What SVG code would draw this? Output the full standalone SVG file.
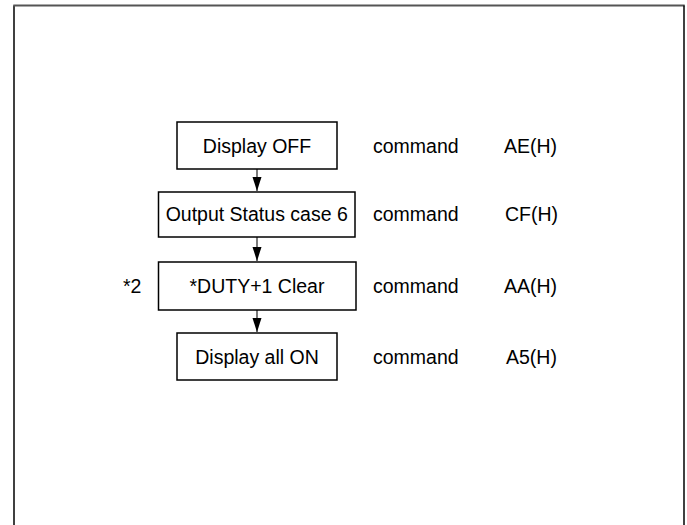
<svg xmlns="http://www.w3.org/2000/svg" width="687" height="525" viewBox="0 0 687 525">
<defs>
<style>
.box{fill:#fff;stroke:#000;stroke-width:1.5}
.t{font-family:"Liberation Sans",Arial,sans-serif;font-size:19.5px;fill:#000}
.c{text-anchor:middle}
.conn{stroke:#222;stroke-width:1.2;fill:none}
</style>
<marker id="ah" viewBox="0 0 14 10" refX="14" refY="5" markerWidth="14" markerHeight="10" markerUnits="userSpaceOnUse" orient="auto">
<path d="M0,0.5 L14,5 L0,9.5 Z" fill="#000"/>
</marker>
</defs>
<rect width="687" height="525" fill="#fff"/>
<g id="frame">
<path d="M14,525 V5.5" stroke="#000" stroke-width="1.5" fill="none"/>
<path d="M13.3,5.5 H684.7" stroke="#555" stroke-width="1.8" fill="none"/>
<path d="M684,5.5 V525" stroke="#000" stroke-width="1.5" fill="none"/>
</g>
<g id="connectors">
<path class="conn" d="M257,169 V191" marker-end="url(#ah)"/>
<path class="conn" d="M257,237 V261" marker-end="url(#ah)"/>
<path class="conn" d="M257,310 V332" marker-end="url(#ah)"/>
</g>
<g id="n1">
<rect class="box" x="177" y="122" width="160" height="47"/>
<text class="t c" x="257" y="152.5">Display OFF</text>
</g>
<g id="n2">
<rect class="box" x="158.5" y="192" width="196.5" height="45"/>
<text class="t c" x="256.7" y="221">Output Status case 6</text>
</g>
<g id="n3">
<rect class="box" x="158.5" y="262" width="197.5" height="48"/>
<text class="t c" x="257" y="293">*DUTY+1 Clear</text>
</g>
<g id="n4">
<rect class="box" x="177" y="333" width="160" height="47"/>
<text class="t c" x="257" y="363.5">Display all ON</text>
</g>
<g id="labels">
<text class="t" x="123" y="293">*2</text>
<text class="t" x="373" y="152.5">command</text>
<text class="t" x="504" y="152.5">AE(H)</text>
<text class="t" x="373" y="221">command</text>
<text class="t" x="505" y="221">CF(H)</text>
<text class="t" x="373" y="293">command</text>
<text class="t" x="504" y="293">AA(H)</text>
<text class="t" x="373" y="363.5">command</text>
<text class="t" x="506" y="363.5">A5(H)</text>
</g>
</svg>
